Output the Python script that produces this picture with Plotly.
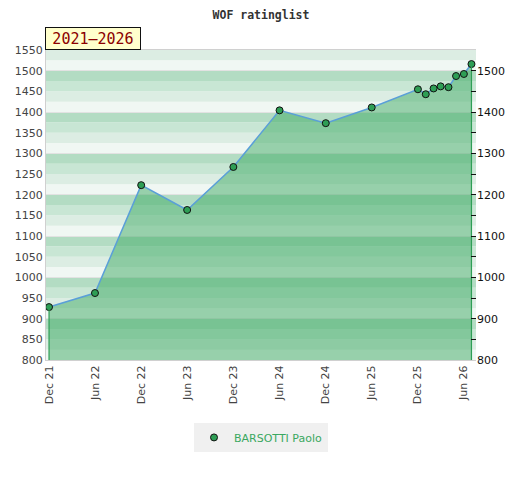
import plotly.graph_objects as go

# rating list data (monthly from Dec 25)
dates = ["2021-12-01", "2022-06-01", "2022-12-01", "2023-06-01", "2023-12-01",
         "2024-06-01", "2024-12-01", "2025-06-01", "2025-12-01", "2026-01-01",
         "2026-02-01", "2026-03-01", "2026-04-01", "2026-05-01", "2026-06-01",
         "2026-07-01"]
ratings = [928, 962, 1223, 1163, 1267,
           1404, 1373, 1411, 1455, 1443,
           1457, 1462, 1460, 1487, 1492,
           1516]
player = "BARSOTTI Paolo"
period = "2021–2026"

y_min, y_max = 800, 1550

# band colours, lightest just above each hundred line
band_colors = ["#f0f7f3", "#dcede3", "#c8e6d4", "#b3dcc3"]

fig = go.Figure()

# filled area with blue top line and markers
fig.add_trace(go.Scatter(
    x=dates, y=ratings, mode="lines+markers",
    line=dict(color="#5a9fd8", width=1.5),
    fill="tozeroy", fillcolor="rgba(62,170,100,0.5)",
    marker=dict(size=7, color="#2e9e55", line=dict(color="#111111", width=1)),
    showlegend=False, hoverinfo="x+y",
))

# green edges of the area at both ends
fig.add_trace(go.Scatter(
    x=[dates[0], dates[0], None, dates[-1], dates[-1]],
    y=[y_min, ratings[0], None, y_min, ratings[-1]],
    mode="lines", line=dict(color="#2e9e55", width=1.2),
    showlegend=False, hoverinfo="skip",
))

# legend entry only
fig.add_trace(go.Scatter(
    x=[None], y=[None], mode="markers", name=player, yaxis="y2",
    marker=dict(size=7, color="#2e9e55", line=dict(color="#111111", width=1)),
))

shapes = []
for v in range(y_min, y_max, 25):
    shapes.append(dict(
        type="rect", xref="paper", yref="y", x0=0, x1=1, y0=v, y1=v + 25,
        fillcolor=band_colors[(v % 100) // 25], line=dict(width=0), layer="below",
    ))

# page body has an 8px margin, so the figure is a bit smaller and shifted
fig.update_layout(
    width=512, height=472,
    margin=dict(l=38, r=44, t=42, b=120),
    paper_bgcolor="white", plot_bgcolor="white",
    shapes=shapes,
    title=dict(text="<b>WOF ratinglist</b>", x=0.5, xanchor="center",
               xref="paper", y=1 - 3 / 472, yanchor="top", pad=dict(t=0),
               font=dict(family="DejaVu Sans Mono", size=11.5, color="#333333")),
    font=dict(family="DejaVu Sans", size=11, color="#444444"),
    xaxis=dict(
        type="date", range=["2021-11-19", "2026-07-19"], automargin=False,
        tick0="2021-12-01", dtick="M6", tickformat="%b %y", tickangle=-90,
        showgrid=False, zeroline=False, ticks="",
        showline=True, linecolor="#d0d0d0", linewidth=1, mirror=True,
        tickfont=dict(size=11, color="#444444"),
    ),
    yaxis=dict(
        range=[y_min, y_max], dtick=50, showgrid=False, zeroline=False,
        showline=True, linecolor="#d0d0d0", linewidth=1, ticks="",
        automargin=False, tickfont=dict(size=11, color="#444444"),
    ),
    yaxis2=dict(
        overlaying="y", side="right", range=[y_min, y_max], dtick=100,
        showgrid=True, gridcolor="#e2e2e2", gridwidth=1, zeroline=False,
        ticks="inside", ticklen=5, tickcolor="#111111", automargin=False,
        minor=dict(dtick=50, ticks="inside", ticklen=5, tickcolor="#111111",
                   showgrid=False),
        tickfont=dict(size=11, color="#111111"),
    ),
    legend=dict(
        orientation="h", x=0.5, xanchor="center", y=-0.203, yanchor="top",
        bgcolor="#f0f0f0", font=dict(size=11, color="#3aa860"),
    ),
    annotations=[dict(
        text=period, xref="paper", yref="paper", x=0, y=1,
        xanchor="left", yanchor="bottom", xshift=-1, showarrow=False,
        width=92, height=19, borderpad=1,
        bgcolor="#ffffcc", bordercolor="#111111", borderwidth=1,
        font=dict(family="DejaVu Sans Mono", size=15, color="#8b0000"),
    )],
)

fig.write_html("out.html")
